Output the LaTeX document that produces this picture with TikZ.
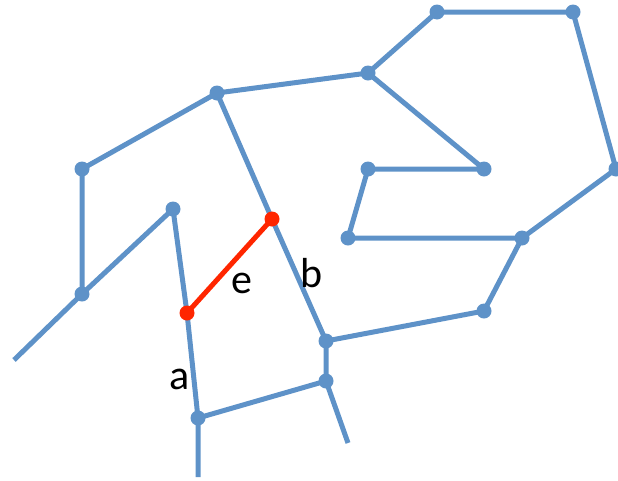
\documentclass[tikz,border=0pt]{standalone}
\usepackage{fontspec}
\setmainfont{Carlito}
\usepackage{xcolor}
\usepackage{tikz}
\definecolor{edgeblue}{RGB}{94,146,200}
\definecolor{edgered}{RGB}{255,38,0}

\begin{document}
\begin{tikzpicture}[x=1pt, y=-1pt,
    edge/.style={draw=edgeblue, line width=5pt},
    hot/.style={draw=edgered, line width=5pt},
    dot/.style={circle, fill=edgeblue, inner sep=0pt, minimum size=15pt},
    hotdot/.style={circle, fill=edgered, inner sep=0pt, minimum size=15pt},
    lbl/.style={font=\fontsize{42}{50}\selectfont, inner sep=0pt}]
    \useasboundingbox (0,0) rectangle (618,480);
    % vertices
    \coordinate (p1) at (437,12);
    \coordinate (p2) at (573,12);
    \coordinate (p3) at (616,169);
    \coordinate (p4) at (368,73);
    \coordinate (p5) at (217,93);
    \coordinate (p6) at (82,169);
    \coordinate (p7) at (82,294);
    \coordinate (p8) at (173,209);
    \coordinate (p9) at (187,313);
    \coordinate (p10) at (198,418);
    \coordinate (p11) at (272,219);
    \coordinate (p12) at (326,341);
    \coordinate (p13) at (326,381);
    \coordinate (p14) at (368,169);
    \coordinate (p15) at (484,169);
    \coordinate (p16) at (348,238);
    \coordinate (p17) at (522,238);
    \coordinate (p18) at (484,311);
    % loose ends
    \coordinate (w) at (14,360);
    \coordinate (s) at (198,477);
    \coordinate (se) at (348,443);

    \draw [edge] (p4) -- (p1) -- (p2) -- (p3) -- (p17) -- (p16) -- (p14) -- (p15) -- (p4);
    \draw [edge] (p4) -- (p5) -- (p6) -- (p7) -- (w);
    \draw [edge] (p7) -- (p8) -- (p9) -- (p10) -- (s);
    \draw [edge] (p10) -- (p13) -- (p12) -- (p11) -- (p5);
    \draw [edge] (p12) -- (p18) -- (p17);
    \draw [edge] (p13) -- (se);
    \draw [hot] (p9) -- (p11);

    \foreach \p in {p1,p2,p3,p4,p5,p6,p7,p8,p10,p12,p13,p14,p15,p16,p17,p18}
        \node [dot] at (\p) {};
    \node [hotdot] (v9) at (p9) {};
    \node [hotdot] (v11) at (p11) {};

    \node [lbl] (le) at (242,283) {e};
    \node [lbl] (lb) at (312,273) {b};
    \node [lbl] (la) at (180,379) {a};
\end{tikzpicture}
\end{document}
